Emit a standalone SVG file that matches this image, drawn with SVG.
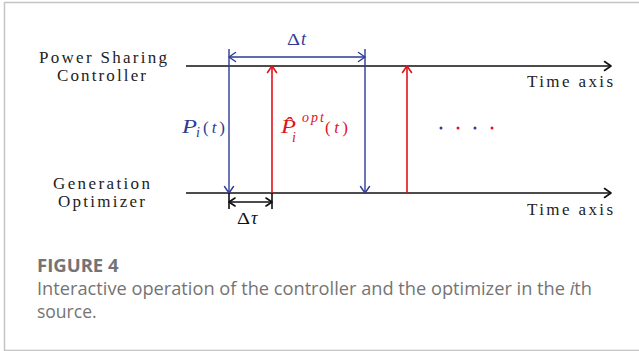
<svg xmlns="http://www.w3.org/2000/svg" width="639" height="351" viewBox="0 0 639 351">
<style>
.lbl{font-family:"Liberation Serif","DejaVu Serif",serif;font-size:17px;fill:#222;}
.m{font-family:"Liberation Serif","DejaVu Serif",serif;font-style:italic;font-size:18px;}
.mr{font-family:"Liberation Serif","DejaVu Serif",serif;font-size:17px;}
.s{font-family:"Liberation Serif","DejaVu Serif",serif;font-style:italic;font-size:14px;}
.ax{stroke:#111;stroke-width:1.6;fill:none;}
.bl{stroke:#2e3b97;stroke-width:1.4;fill:none;}
.rd{stroke:#e0131b;stroke-width:1.6;fill:none;}
.hd{fill:none;stroke-linecap:round;stroke-linejoin:round;}
.cap{font-family:"Open Sans","Lato",sans-serif;fill:#747474;}
</style>
<rect x="0" y="0" width="639" height="351" fill="#fff"/>
<path d="M4.5 351 V2.5 H639 M4 350.5 H639" stroke="#c4c4c4" stroke-width="1.5" fill="none"/>

<g id="controller-label">
<text class="lbl" x="39" y="63" textLength="128" lengthAdjust="spacing">Power Sharing</text>
<text class="lbl" x="57" y="81" textLength="89" lengthAdjust="spacing">Controller</text>
</g>
<g id="optimizer-label">
<text class="lbl" x="53" y="189" textLength="97" lengthAdjust="spacing">Generation</text>
<text class="lbl" x="58" y="207" textLength="87" lengthAdjust="spacing">Optimizer</text>
</g>
<g id="time-labels">
<text class="lbl" x="527" y="87" textLength="86" lengthAdjust="spacing">Time axis</text>
<text class="lbl" x="527" y="215" textLength="86" lengthAdjust="spacing">Time axis</text>
</g>

<g id="connectors">
<path class="ax" d="M186 66 H611"/>
<path class="ax hd" d="M604.5 61.5 L611 66 L604.5 70.5"/>
<path class="ax" d="M186 193 H611"/>
<path class="ax hd" d="M604.5 188.5 L611 193 L604.5 197.5"/>
<path class="bl" d="M229 49 V193 M365 49 V193 M229 57 H365"/>
<path class="bl hd" d="M224.5 186.5 L229 193 L233.5 186.5 M360.5 186.5 L365 193 L369.5 186.5 M235.5 52.5 L229 57 L235.5 61.5 M358.5 52.5 L365 57 L358.5 61.5"/>
<path class="rd" d="M272 193 V66 M407 193 V66"/>
<path class="rd hd" d="M267.5 72.5 L272 66 L276.5 72.5 M402.5 72.5 L407 66 L411.5 72.5"/>
<path class="ax" d="M229 193 V209 M272 193 V209 M229 202 H272"/>
<path class="ax hd" d="M235 198 L229 202 L235 206 M266 198 L272 202 L266 206"/>
</g>

<g id="label-dt" fill="#2e3b97">
<text class="mr" x="287" y="45" textLength="13" lengthAdjust="spacingAndGlyphs">Δ</text>
<text class="m" x="301" y="45" font-size="17">t</text>
</g>
<g id="label-pi" fill="#2e3b97">
<text class="m" x="182" y="133" font-size="19" textLength="15" lengthAdjust="spacingAndGlyphs">P</text>
<text class="s" x="196" y="137">i</text>
<text class="mr" x="203" y="133" textLength="22" lengthAdjust="spacing">(<tspan font-style="italic">t</tspan>)</text>
</g>
<g id="label-popt" fill="#e0131b">
<text class="m" x="281" y="133" font-size="19" textLength="15" lengthAdjust="spacingAndGlyphs">P̂</text>
<text class="s" x="292" y="142">i</text>
<text class="s" x="302" y="122" textLength="22" lengthAdjust="spacing">opt</text>
<text class="mr" x="325" y="133" textLength="23" lengthAdjust="spacing">(<tspan font-style="italic">t</tspan>)</text>
</g>
<g id="label-dtau" fill="#111">
<text class="mr" x="237" y="224" textLength="13" lengthAdjust="spacingAndGlyphs">Δ</text>
<text class="m" x="251" y="224" font-size="17">τ</text>
</g>

<g id="dots">
<circle cx="441" cy="128" r="1.5" fill="#2e3b97"/>
<circle cx="458" cy="128" r="1.5" fill="#e0131b"/>
<circle cx="475" cy="128" r="1.5" fill="#2e3b97"/>
<circle cx="492" cy="128" r="1.5" fill="#e0131b"/>
</g>

<g id="caption">
<text class="cap" x="37" y="272" font-size="18.5" font-weight="bold">FIGURE 4</text>
<text class="cap" x="37" y="295" font-size="17.5" textLength="555" lengthAdjust="spacingAndGlyphs">Interactive operation of the controller and the optimizer in the <tspan font-style="italic">i</tspan>th</text>
<text class="cap" x="37" y="318" font-size="17.5">source.</text>
</g>
</svg>
